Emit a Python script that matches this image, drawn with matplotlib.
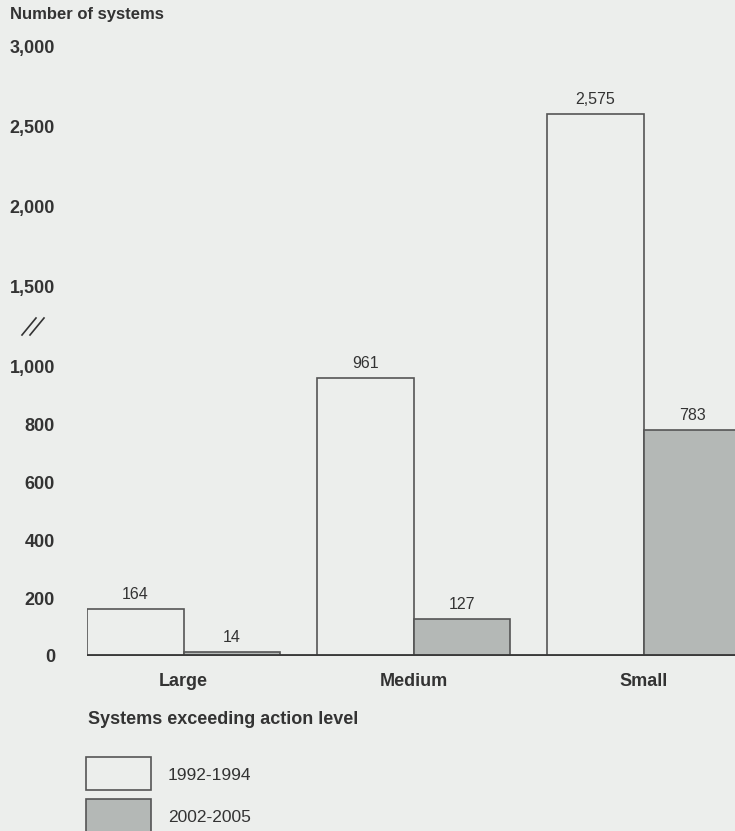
import numpy as np
import matplotlib
matplotlib.use('Agg')
import matplotlib.pyplot as plt
from matplotlib.lines import Line2D
from matplotlib.patches import Rectangle

# data
categories = ['Large', 'Medium', 'Small']
early = [164, 961, 2575]     # 1992-1994
late = [14, 127, 783]        # 2002-2005
series_labels = ['1992-1994', '2002-2005']
yticks = [0, 200, 400, 600, 800, 1000, 1500, 2000, 2500, 3000]

BG = '#eceeec'
GRAY = '#b4b8b6'
EDGE = '#555555'
TXT = '#333333'
K = 0.555  # compression above the axis break

plt.rcParams['font.family'] = ['Liberation Sans', 'DejaVu Sans']


def fwd(y):
    y = np.asarray(y, dtype=float)
    return np.where(y <= 1000, y, 1000 + (y - 1000) * K)


def inv(y):
    y = np.asarray(y, dtype=float)
    return np.where(y <= 1000, y, 1000 + (y - 1000) / K)


fig = plt.figure(figsize=(7.35, 8.31), dpi=100, facecolor=BG)
W, H = 735, 831
ax = fig.add_axes([87 / W, (H - 656) / H, (735 - 87) / W, (656 - 46) / H])
ax.set_facecolor(BG)
ax.set_yscale('function', functions=(fwd, inv))

x = np.arange(len(categories))
w = 0.42
b1 = ax.bar(x - w / 2, early, w, color=BG, edgecolor=EDGE, linewidth=1.2)
b2 = ax.bar(x + w / 2, late, w, color=GRAY, edgecolor=EDGE, linewidth=1.2)

for bars, vals in ((b1, early), (b2, late)):
    for rect, v in zip(bars, vals):
        ax.annotate(f'{v:,}', (rect.get_x() + rect.get_width() / 2, v),
                    xytext=(0, 5), textcoords='offset points',
                    ha='center', va='bottom', fontsize=11.5, color=TXT)

ax.axhline(0, color='#3a3a3a', linewidth=3.5, zorder=5)

ax.set_xlim(-0.42, 2.396)
ax.set_ylim(0, 3000)
ax.set_yticks(yticks)
ax.set_yticklabels([f'{t:,}' for t in yticks], fontsize=13, fontweight='bold', color=TXT)
ax.set_xticks(x)
ax.set_xticklabels(categories, fontsize=13, fontweight='bold', color=TXT)
ax.tick_params(axis='y', length=0, pad=23)
ax.tick_params(axis='x', length=0, pad=12)
for s in ax.spines.values():
    s.set_visible(False)

fig.text(10 / W, 1 - 15 / H, 'Number of systems', fontsize=12, fontweight='bold',
         color=TXT, va='center', ha='left')

# axis break mark
for dx in (0, 8):
    fig.add_artist(Line2D([(22 + dx) / W, (36 + dx) / W],
                          [1 - 335 / H, 1 - 318 / H], color=TXT, linewidth=1.2))

# legend
fig.text(88 / W, 1 - 720 / H, 'Systems exceeding action level', fontsize=13,
         fontweight='bold', color=TXT, va='center', ha='left')
for i, (lab, fc) in enumerate(zip(series_labels, [BG, GRAY])):
    top = 757 + i * 42
    fig.add_artist(Rectangle((86 / W, 1 - (top + 33) / H), 65 / W, 33 / H,
                             facecolor=fc, edgecolor=EDGE, linewidth=1.2,
                             transform=fig.transFigure))
    fig.text(168 / W, 1 - (top + 18) / H, lab, fontsize=12.5, color=TXT,
             va='center', ha='left')

fig.savefig('out.png', dpi=100, facecolor=BG)
